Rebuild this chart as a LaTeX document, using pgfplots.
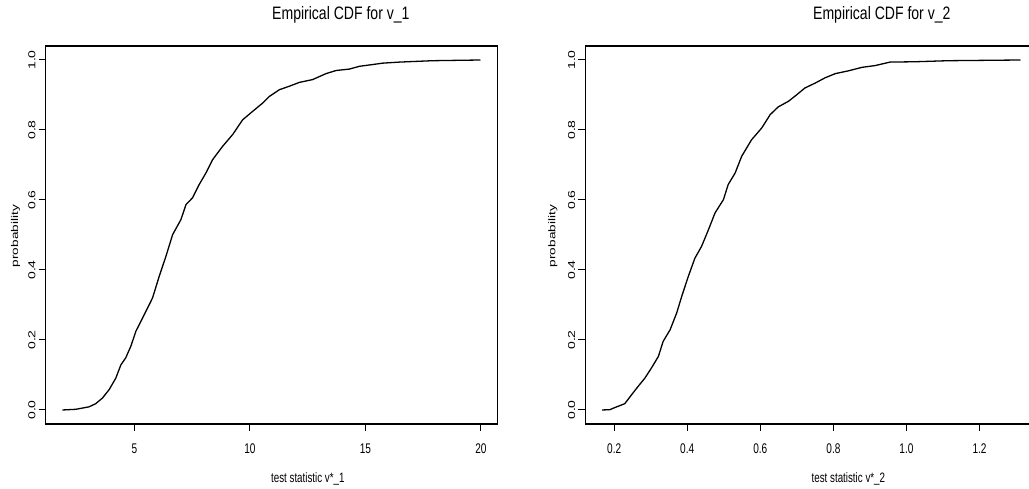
\documentclass[border=0pt]{standalone}
\usepackage{pgfplots}
\pgfplotsset{compat=1.18}
\usepackage{fontspec}
\setmainfont{Liberation Sans}
\usepackage{graphicx}
\newcommand{\hx}[1]{\scalebox{0.72}[1]{#1}}
\newcommand{\vx}[1]{\scalebox{1}[0.72]{#1}}
\newcommand{\ticksz}{\fontsize{14}{16}\selectfont}
\newcommand{\labsz}{\fontsize{13.6}{15}\selectfont}
\newcommand{\titsz}{\fontsize{18}{20}\selectfont}

\pgfplotsset{
  rcdf/.style={
    scale only axis, width=452pt, height=378pt,
    ymin=-0.04, ymax=1.04,
    ytick={0,0.2,0.4,0.6,0.8,1.0},
    yticklabels={\vx{0.0},\vx{0.2},\vx{0.4},\vx{0.6},\vx{0.8},\vx{1.0}},
    tick align=outside, xtick pos=bottom, ytick pos=left,
    major tick length=7pt,
    every tick/.style={black, line width=1pt},
    axis line style={black, line width=1.1pt},
    xticklabel style={font=\ticksz, inner sep=0pt, anchor=north},
    xticklabel shift=12.3pt,
    yticklabel style={font=\ticksz, inner sep=0pt, rotate=90, anchor=south},
    yticklabel shift=3pt,
    every axis title shift=0pt,
    title style={font=\titsz, anchor=base, inner sep=0pt},
    xlabel style={font=\labsz, anchor=base, inner sep=0pt},
    ylabel style={font=\labsz, anchor=base, inner sep=0pt},
  },
  cdfline/.style={black, no marks, line width=1.3pt, line join=round},
}

\begin{document}
\begin{tikzpicture}
\begin{axis}[rcdf,
  at={(45.7pt,65pt)}, anchor=south west,
  xmin=1.155, xmax=20.725,
  xtick={5,10,15,20},
  xticklabels={\hx{5},\hx{10},\hx{15},\hx{20}},
  title={\scalebox{0.78}[1]{Empirical CDF for v\_1}},
  title style={at={(axis description cs:0.653,1.071)}},
  xlabel={\hx{test statistic v*\_1}},
  xlabel style={at={(axis description cs:0.58,-0.156)}},
  ylabel={\vx{probability}},
  ylabel style={at={(axis description cs:-0.0612,0.497)}},
]
\addplot[cdfline] coordinates {
(1.88,0.000) (2.46,0.002) (3.03,0.009) (3.32,0.018) (3.61,0.034) (3.90,0.058)
(4.19,0.091) (4.41,0.129) (4.62,0.149) (4.84,0.182) (5.06,0.225) (5.35,0.263)
(5.78,0.320) (6.07,0.382) (6.36,0.439) (6.65,0.501) (7.01,0.544) (7.23,0.587)
(7.51,0.606) (7.80,0.644) (8.09,0.677) (8.38,0.715) (8.81,0.753) (9.25,0.787)
(9.68,0.829) (10.11,0.853) (10.55,0.877) (10.84,0.896) (11.27,0.915) (11.70,0.925)
(12.14,0.936) (12.71,0.944) (13.29,0.961) (13.73,0.970) (14.30,0.974) (14.74,0.982)
(15.31,0.987) (15.75,0.991) (16.47,0.994) (17.91,0.998) (19.98,1.000)
};
\end{axis}
\begin{axis}[rcdf,
  at={(585.3pt,65pt)}, anchor=south west,
  xmin=0.121, xmax=1.358,
  xtick={0.2,0.4,0.6,0.8,1.0,1.2},
  xticklabels={\hx{0.2},\hx{0.4},\hx{0.6},\hx{0.8},\hx{1.0},\hx{1.2}},
  title={\scalebox{0.78}[1]{Empirical CDF for v\_2}},
  title style={at={(axis description cs:0.656,1.071)}},
  xlabel={\hx{test statistic v*\_2}},
  xlabel style={at={(axis description cs:0.582,-0.156)}},
  ylabel={\vx{probability}},
  ylabel style={at={(axis description cs:-0.066,0.497)}},
]
\addplot[cdfline] coordinates {
(0.167,0.000) (0.188,0.001) (0.207,0.009) (0.229,0.018) (0.248,0.044) (0.266,0.068)
(0.284,0.091) (0.302,0.120) (0.321,0.153) (0.334,0.196) (0.353,0.229) (0.371,0.277)
(0.385,0.325) (0.403,0.382) (0.421,0.434) (0.439,0.467) (0.458,0.515) (0.476,0.563)
(0.499,0.601) (0.512,0.644) (0.531,0.677) (0.549,0.725) (0.576,0.772) (0.604,0.806)
(0.627,0.844) (0.649,0.866) (0.677,0.882) (0.700,0.901) (0.722,0.920) (0.750,0.934)
(0.777,0.949) (0.805,0.961) (0.841,0.969) (0.878,0.979) (0.914,0.984) (0.955,0.994)
(1.024,0.995) (1.115,0.998) (1.312,1.000)
};
\end{axis}
\pgfresetboundingbox
\path[use as bounding box] (0,0) rectangle (1029pt,489pt);
\end{tikzpicture}
\end{document}
